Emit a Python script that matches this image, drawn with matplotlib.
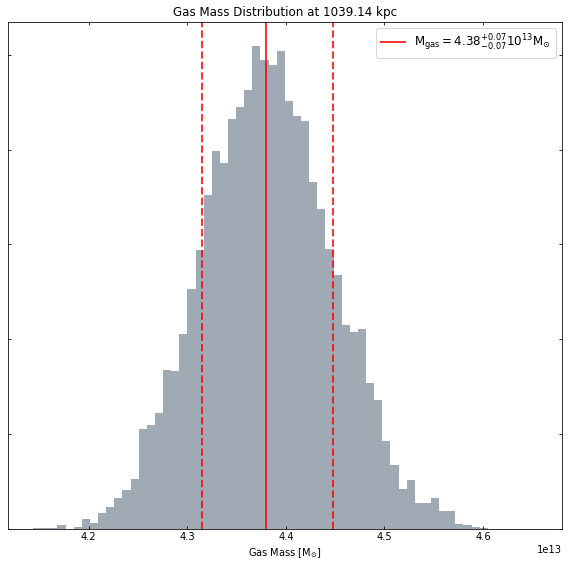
import numpy as np
import matplotlib
matplotlib.use("Agg")
import matplotlib.pyplot as plt

# bin range of the gas-mass samples (Msun) and counts per bin
mass_min = 4.1435e13
mass_max = 4.6545e13
counts = [
    1, 1, 1, 4, 0, 2, 10, 6, 17, 23,
    32, 41, 53, 105, 109, 122, 167, 166, 206, 253,
    294, 352, 399, 386, 432, 445, 463, 509, 494, 489,
    504, 451, 435, 430, 366, 337, 295, 268, 215, 208,
    211, 154, 136, 93, 67, 42, 51, 27, 27, 33,
    19, 19, 5, 4, 2, 1, 0, 0, 0, 0,
    0, 0,
]

# percentiles (16th, 50th, 84th)
p16 = 4.3148e13
p50 = 4.3802e13
p84 = 4.4477e13
radius_kpc = 1039.14

edges = np.linspace(mass_min, mass_max, len(counts) + 1)
centers = 0.5 * (edges[:-1] + edges[1:])

fig, ax = plt.subplots(figsize=(8, 8), dpi=71)
ax.hist(centers, bins=edges, weights=counts, color="#a0aab5")

label = (r"$\mathrm{M_{gas}} = %.2f^{+%.2f}_{-%.2f} 10^{13}\mathrm{M_{\odot}}$"
         % (p50 / 1e13, (p84 - p50) / 1e13, (p50 - p16) / 1e13))
ax.axvline(p50, color="red", lw=2, alpha=0.8, label=label)
ax.axvline(p16, color="red", lw=2, alpha=0.8, ls="--")
ax.axvline(p84, color="red", lw=2, alpha=0.8, ls="--")

ax.set_title(f"Gas Mass Distribution at {radius_kpc:.2f} kpc", fontsize=12)
ax.set_xlabel(r"Gas Mass [M$_{\odot}$]", fontsize=10)
ax.tick_params(direction="in", top=True, right=True, labelleft=False)
ax.legend(loc="upper right", fontsize=12)

fig.subplots_adjust(left=0.014, right=0.989, bottom=0.069, top=0.961)
fig.savefig("out.png", dpi=71)
plt.close(fig)
